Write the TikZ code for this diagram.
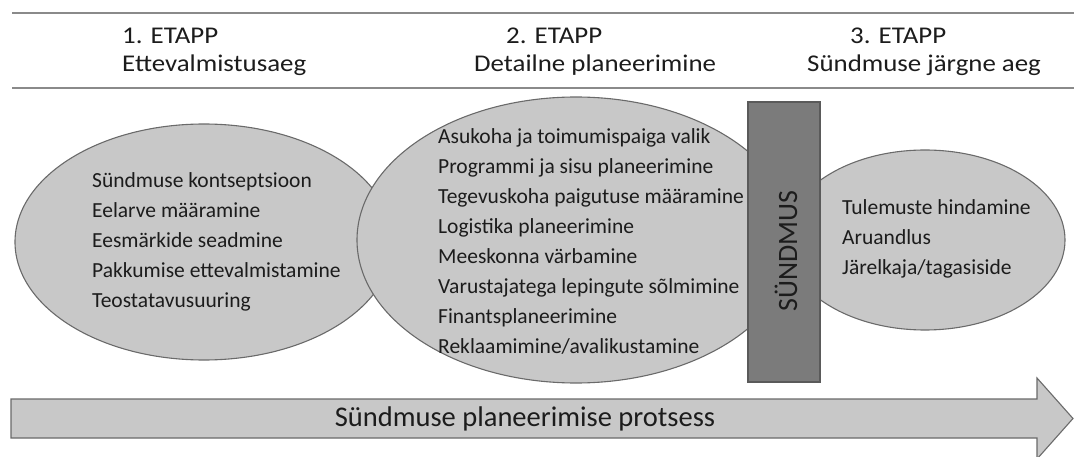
\documentclass[tikz,border=0pt]{standalone}
\usepackage{fontspec}
\setmainfont{Carlito}
\newfontfamily\headfont[FakeStretch=1.12]{Carlito}
\usetikzlibrary{shapes.geometric}
\definecolor{ellfill}{HTML}{C8C8C8}
\definecolor{ellline}{HTML}{6A6A6A}
\definecolor{rectfill}{HTML}{7B7B7B}
\definecolor{rectline}{HTML}{5A5A5A}
\definecolor{txt}{HTML}{1C1C1C}
\definecolor{rule}{HTML}{8A8A8A}
\tikzset{
  blob/.style={ellipse, draw=ellline, fill=ellfill, line width=1.1pt, inner sep=0pt},
  listtext/.style={anchor=base west, align=left, inner sep=0pt, text=txt,
     font=\fontsize{21.5}{30}\selectfont},
  headtext/.style={anchor=base west, inner sep=0pt, text=txt,
     font=\headfont\fontsize{24}{28}\selectfont},
  rulerline/.style={draw=rule, line width=2pt},
  eventbox/.style={draw=rectline, fill=rectfill, line width=1.1pt, inner sep=0pt},
  procarrow/.style={draw=ellline, fill=ellfill, line width=1.1pt, line join=miter}
}
\begin{document}
\begin{tikzpicture}[x=1pt,y=-1pt]
\useasboundingbox (0,0) rectangle (1074,457);
% header rules
\coordinate (r1a) at (12,13);
\coordinate (r1b) at (1074,13);
\coordinate (r2a) at (12,88);
\coordinate (r2b) at (1074,88);
\draw[rulerline] (r1a) -- (r1b);
\draw[rulerline] (r2a) -- (r2b);
% headings
\node[headtext] (h1a) at (122,44) {1. ETAPP};
\node[headtext] (h1b) at (122,72) {Ettevalmistusaeg};
\node[headtext] (h2a) at (506,44) {2. ETAPP};
\node[headtext] (h2b) at (474,72) {Detailne planeerimine};
\node[headtext] (h3a) at (850,44) {3. ETAPP};
\node[headtext] (h3b) at (807,72) {Sündmuse järgne aeg};
% ellipses
\node[blob, minimum width=378pt, minimum height=236pt] (e1) at (204,242) {};
\node[blob, minimum width=438pt, minimum height=286pt] (e2) at (576,240) {};
\node[blob, minimum width=280pt, minimum height=180pt] (e3) at (925,240) {};
% event box
\node[eventbox, minimum width=72pt, minimum height=280pt] (ev) at (784,242) {};
\node[rotate=90, text=txt, inner sep=0pt, font=\fontsize{28}{32}\selectfont] (evt) at (786,251) {SÜNDMUS};
% lists (anchor = baseline of last line)
\node[listtext] (l1) at (92,307) {Sündmuse kontseptsioon\\Eelarve määramine\\Eesmärkide seadmine\\Pakkumise ettevalmistamine\\Teostatavusuuring};
\node[listtext] (l2) at (438,353) {Asukoha ja toimumispaiga valik\\Programmi ja sisu planeerimine\\Tegevuskoha paigutuse määramine\\Logistika planeerimine\\Meeskonna värbamine\\Varustajatega lepingute sõlmimine\\Finantsplaneerimine\\Reklaamimine/avalikustamine};
\node[listtext] (l3) at (842,275) {Tulemuste hindamine\\Aruandlus\\Järelkaja/tagasiside};
% process arrow
\draw[procarrow] (11,399) -- (1037,399) -- (1037,378) -- (1073,418.5) -- (1037,459) -- (1037,438) -- (11,438) -- cycle;
\node[text=txt, inner sep=0pt, font=\fontsize{28.5}{32}\selectfont] (proc) at (525,419) {Sündmuse planeerimise protsess};
\end{tikzpicture}
\end{document}
